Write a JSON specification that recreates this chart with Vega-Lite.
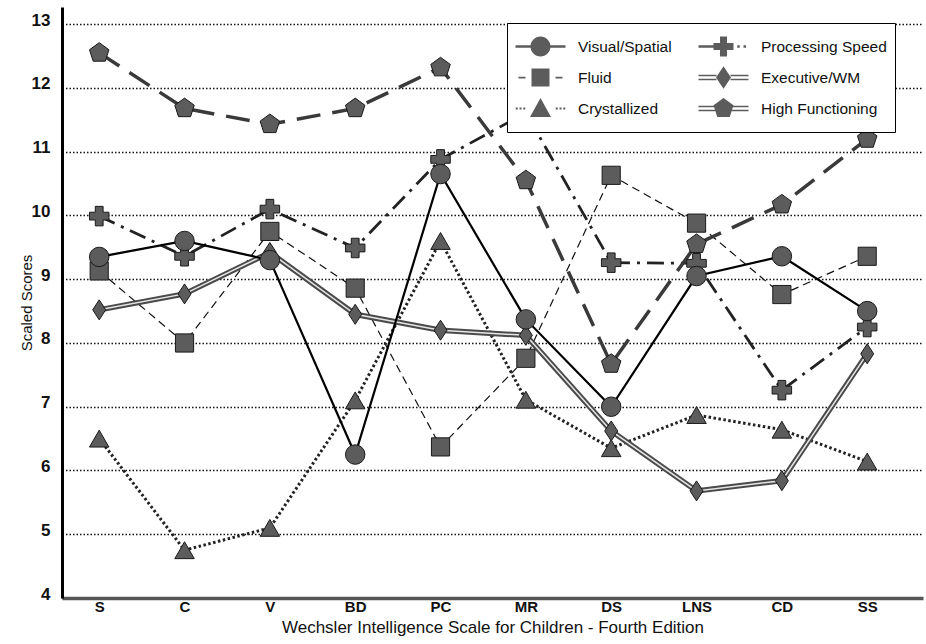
{
  "$schema": "https://vega.github.io/schema/vega-lite/v6.json",
  "width": 861,
  "height": 591,
  "autosize": "none",
  "padding": {"left": 62, "top": 7, "right": 3, "bottom": 46},
  "config": {
    "view": {"stroke": null},
    "font": "Liberation Sans",
    "point": {"filled": true, "fill": "#5c5c5c", "stroke": "#1a1a1a", "strokeWidth": 1, "opacity": 1, "size": 360}
  },
  "data": {
    "values": [
      {"test": "S", "series": "Visual/Spatial", "score": 9.35},
      {"test": "C", "series": "Visual/Spatial", "score": 9.6},
      {"test": "V", "series": "Visual/Spatial", "score": 9.3},
      {"test": "BD", "series": "Visual/Spatial", "score": 6.25},
      {"test": "PC", "series": "Visual/Spatial", "score": 10.65},
      {"test": "MR", "series": "Visual/Spatial", "score": 8.37},
      {"test": "DS", "series": "Visual/Spatial", "score": 7.0},
      {"test": "LNS", "series": "Visual/Spatial", "score": 9.05},
      {"test": "CD", "series": "Visual/Spatial", "score": 9.36},
      {"test": "SS", "series": "Visual/Spatial", "score": 8.5},
      {"test": "S", "series": "Fluid", "score": 9.13},
      {"test": "C", "series": "Fluid", "score": 8.0},
      {"test": "V", "series": "Fluid", "score": 9.75},
      {"test": "BD", "series": "Fluid", "score": 8.86},
      {"test": "PC", "series": "Fluid", "score": 6.37},
      {"test": "MR", "series": "Fluid", "score": 7.76},
      {"test": "DS", "series": "Fluid", "score": 10.63},
      {"test": "LNS", "series": "Fluid", "score": 9.88},
      {"test": "CD", "series": "Fluid", "score": 8.76},
      {"test": "SS", "series": "Fluid", "score": 9.36},
      {"test": "S", "series": "Crystallized", "score": 6.5},
      {"test": "C", "series": "Crystallized", "score": 4.75},
      {"test": "V", "series": "Crystallized", "score": 5.1},
      {"test": "BD", "series": "Crystallized", "score": 7.1},
      {"test": "PC", "series": "Crystallized", "score": 9.6},
      {"test": "MR", "series": "Crystallized", "score": 7.11},
      {"test": "DS", "series": "Crystallized", "score": 6.35},
      {"test": "LNS", "series": "Crystallized", "score": 6.87},
      {"test": "CD", "series": "Crystallized", "score": 6.64},
      {"test": "SS", "series": "Crystallized", "score": 6.14},
      {"test": "S", "series": "Processing Speed", "score": 9.99},
      {"test": "C", "series": "Processing Speed", "score": 9.36},
      {"test": "V", "series": "Processing Speed", "score": 10.1},
      {"test": "BD", "series": "Processing Speed", "score": 9.49},
      {"test": "PC", "series": "Processing Speed", "score": 10.88},
      {"test": "MR", "series": "Processing Speed", "score": 11.61},
      {"test": "DS", "series": "Processing Speed", "score": 9.26},
      {"test": "LNS", "series": "Processing Speed", "score": 9.25},
      {"test": "CD", "series": "Processing Speed", "score": 7.26},
      {"test": "SS", "series": "Processing Speed", "score": 8.25},
      {"test": "S", "series": "Executive/WM", "score": 8.52},
      {"test": "C", "series": "Executive/WM", "score": 8.77},
      {"test": "V", "series": "Executive/WM", "score": 9.42},
      {"test": "BD", "series": "Executive/WM", "score": 8.45},
      {"test": "PC", "series": "Executive/WM", "score": 8.2},
      {"test": "MR", "series": "Executive/WM", "score": 8.12},
      {"test": "DS", "series": "Executive/WM", "score": 6.62},
      {"test": "LNS", "series": "Executive/WM", "score": 5.68},
      {"test": "CD", "series": "Executive/WM", "score": 5.84},
      {"test": "SS", "series": "Executive/WM", "score": 7.83},
      {"test": "S", "series": "High Functioning", "score": 12.55},
      {"test": "C", "series": "High Functioning", "score": 11.68},
      {"test": "V", "series": "High Functioning", "score": 11.43},
      {"test": "BD", "series": "High Functioning", "score": 11.68},
      {"test": "PC", "series": "High Functioning", "score": 12.32},
      {"test": "MR", "series": "High Functioning", "score": 10.55},
      {"test": "DS", "series": "High Functioning", "score": 7.67},
      {"test": "LNS", "series": "High Functioning", "score": 9.55},
      {"test": "CD", "series": "High Functioning", "score": 10.17},
      {"test": "SS", "series": "High Functioning", "score": 11.2}
    ]
  },
  "encoding": {
    "x": {
      "field": "test",
      "type": "ordinal",
      "scale": {"type": "point", "domain": ["S", "C", "V", "BD", "PC", "MR", "DS", "LNS", "CD", "SS"], "padding": 0.545, "align": 0.4},
      "axis": {
        "title": "Wechsler Intelligence Scale for Children - Fourth Edition",
        "titleFontSize": 17,
        "titleFontWeight": "normal",
        "titleColor": "#111",
        "titlePadding": 5,
        "labelAngle": 0,
        "labelFontSize": 15,
        "labelFontWeight": "bold",
        "labelColor": "#111",
        "labelPadding": 1,
        "ticks": false,
        "tickSize": 0,
        "grid": false,
        "domainColor": "#555",
        "domainWidth": 3.5
      }
    },
    "y": {
      "field": "score",
      "type": "quantitative",
      "scale": {"domain": [4, 13.27], "nice": false, "zero": false},
      "axis": {
        "title": "Scaled Scores",
        "titleFontSize": 15,
        "titleFontWeight": "normal",
        "titleColor": "#111",
        "titlePadding": -3,
        "values": [4, 5, 6, 7, 8, 9, 10, 11, 12, 13],
        "labelFontSize": 17,
        "labelFontWeight": "bold",
        "labelColor": "#111",
        "labelPadding": 12,
        "labelOffset": -4,
        "ticks": false,
        "tickSize": 0,
        "grid": true,
        "gridColor": "#111",
        "gridDash": [1.5, 2],
        "gridWidth": 1.3,
        "domainColor": "#000",
        "domainWidth": 3
      }
    }
  },
  "layer": [
    {
      "transform": [{"filter": "datum.series === 'Fluid'"}],
      "mark": {"type": "line", "color": "#111", "strokeWidth": 1.2, "strokeDash": [8, 5]}
    },
    {
      "transform": [{"filter": "datum.series === 'Crystallized'"}],
      "mark": {"type": "line", "color": "#222", "strokeWidth": 3, "strokeDash": [2.5, 2.5]}
    },
    {
      "transform": [{"filter": "datum.series === 'Processing Speed'"}],
      "mark": {"type": "line", "color": "#222", "strokeWidth": 2.8, "strokeDash": [17, 7, 3, 7]}
    },
    {
      "transform": [{"filter": "datum.series === 'High Functioning'"}],
      "mark": {"type": "line", "color": "#3a3a3a", "strokeWidth": 3.5, "strokeDash": [24, 12]}
    },
    {
      "transform": [{"filter": "datum.series === 'Executive/WM'"}],
      "mark": {"type": "line", "color": "#4a4a4a", "strokeWidth": 5.5}
    },
    {
      "transform": [{"filter": "datum.series === 'Executive/WM'"}],
      "mark": {"type": "line", "color": "#e6e6e6", "strokeWidth": 1.5}
    },
    {
      "transform": [{"filter": "datum.series === 'Visual/Spatial'"}],
      "mark": {"type": "line", "color": "#000", "strokeWidth": 2.2}
    },
    {
      "transform": [{"filter": "datum.series === 'Fluid'"}],
      "mark": {"type": "point", "shape": "square", "size": 330}
    },
    {
      "transform": [{"filter": "datum.series === 'Crystallized'"}],
      "mark": {"type": "point", "shape": "triangle-up", "size": 380}
    },
    {
      "transform": [{"filter": "datum.series === 'Processing Speed'"}],
      "mark": {"type": "point", "shape": "cross", "size": 380}
    },
    {
      "transform": [{"filter": "datum.series === 'High Functioning'"}],
      "mark": {"type": "point", "shape": "M0,-1L0.95,-0.31L0.59,0.81L-0.59,0.81L-0.95,-0.31Z", "size": 420}
    },
    {
      "transform": [{"filter": "datum.series === 'Executive/WM'"}],
      "mark": {"type": "point", "shape": "M0,-1L0.65,0L0,1L-0.65,0Z", "size": 400}
    },
    {
      "transform": [{"filter": "datum.series === 'Visual/Spatial'"}],
      "mark": {"type": "point", "shape": "circle", "size": 380}
    },
    {
      "mark": {"type": "point", "size": 0, "filled": true, "fill": "#5c5c5c", "stroke": "#1a1a1a", "strokeWidth": 1.5},
      "encoding": {
        "shape": {
          "field": "series",
          "type": "nominal",
          "scale": {
            "domain": ["Visual/Spatial", "Fluid", "Crystallized", "Processing Speed", "Executive/WM", "High Functioning"],
            "range": [
              "M-1,-0.05H-0.38V0.05H-1ZM0.38,-0.05H1V0.05H0.38ZM0.4,0A0.4,0.4 0 1,1 -0.4,0A0.4,0.4 0 1,1 0.4,0Z",
              "M-0.88,-0.035H-0.6V0.035H-0.88ZM0.6,-0.035H0.88V0.035H0.6ZM-0.36,-0.36H0.36V0.36H-0.36Z",
              "M-0.99,-0.04H-0.91V0.04H-0.99ZM-0.84,-0.04H-0.76V0.04H-0.84ZM-0.69,-0.04H-0.61V0.04H-0.69ZM0.61,-0.04H0.69V0.04H0.61ZM0.76,-0.04H0.84V0.04H0.76ZM0.91,-0.04H0.99V0.04H0.91ZM0,-0.42L0.42,0.34H-0.42Z",
              "M-1,-0.05H-0.38V0.05H-1ZM0.55,-0.05H0.65V0.05H0.55ZM0.8,-0.05H0.9V0.05H0.8ZM-0.14,-0.4H0.14V-0.14H0.4V0.14H0.14V0.4H-0.14V0.14H-0.4V-0.14H-0.14Z",
              "M-1,-0.11H-0.28V-0.05H-1ZM-1,0.05H-0.28V0.11H-1ZM0.28,-0.11H1V-0.05H0.28ZM0.28,0.05H1V0.11H0.28ZM0,-0.45L0.3,0L0,0.45L-0.3,0Z",
              "M-1,-0.11H-0.33V-0.05H-1ZM-1,0.05H-0.33V0.11H-1ZM0.33,-0.11H1V-0.05H0.33ZM0.33,0.05H1V0.11H0.33ZM0,-0.42L0.4,-0.13L0.25,0.34H-0.25L-0.4,-0.13Z"
            ]
          },
          "legend": {
            "title": null,
            "orient": "none",
            "legendX": 445,
            "legendY": 16,
            "columns": 2,
            "columnPadding": 26,
            "rowPadding": 0,
            "clipHeight": 31,
            "padding": 8,
            "strokeColor": "#000",
            "fillColor": "#fff",
            "symbolSize": 2500,
            "symbolOffset": 0,
            "symbolStrokeWidth": 1.5,
            "symbolFillColor": "#5c5c5c",
            "symbolStrokeColor": "#1a1a1a",
            "symbolOpacity": 1,
            "labelOffset": 12,
            "labelFontSize": 15.5,
            "labelColor": "#111",
            "labelLimit": 200
          }
        }
      }
    }
  ]
}
